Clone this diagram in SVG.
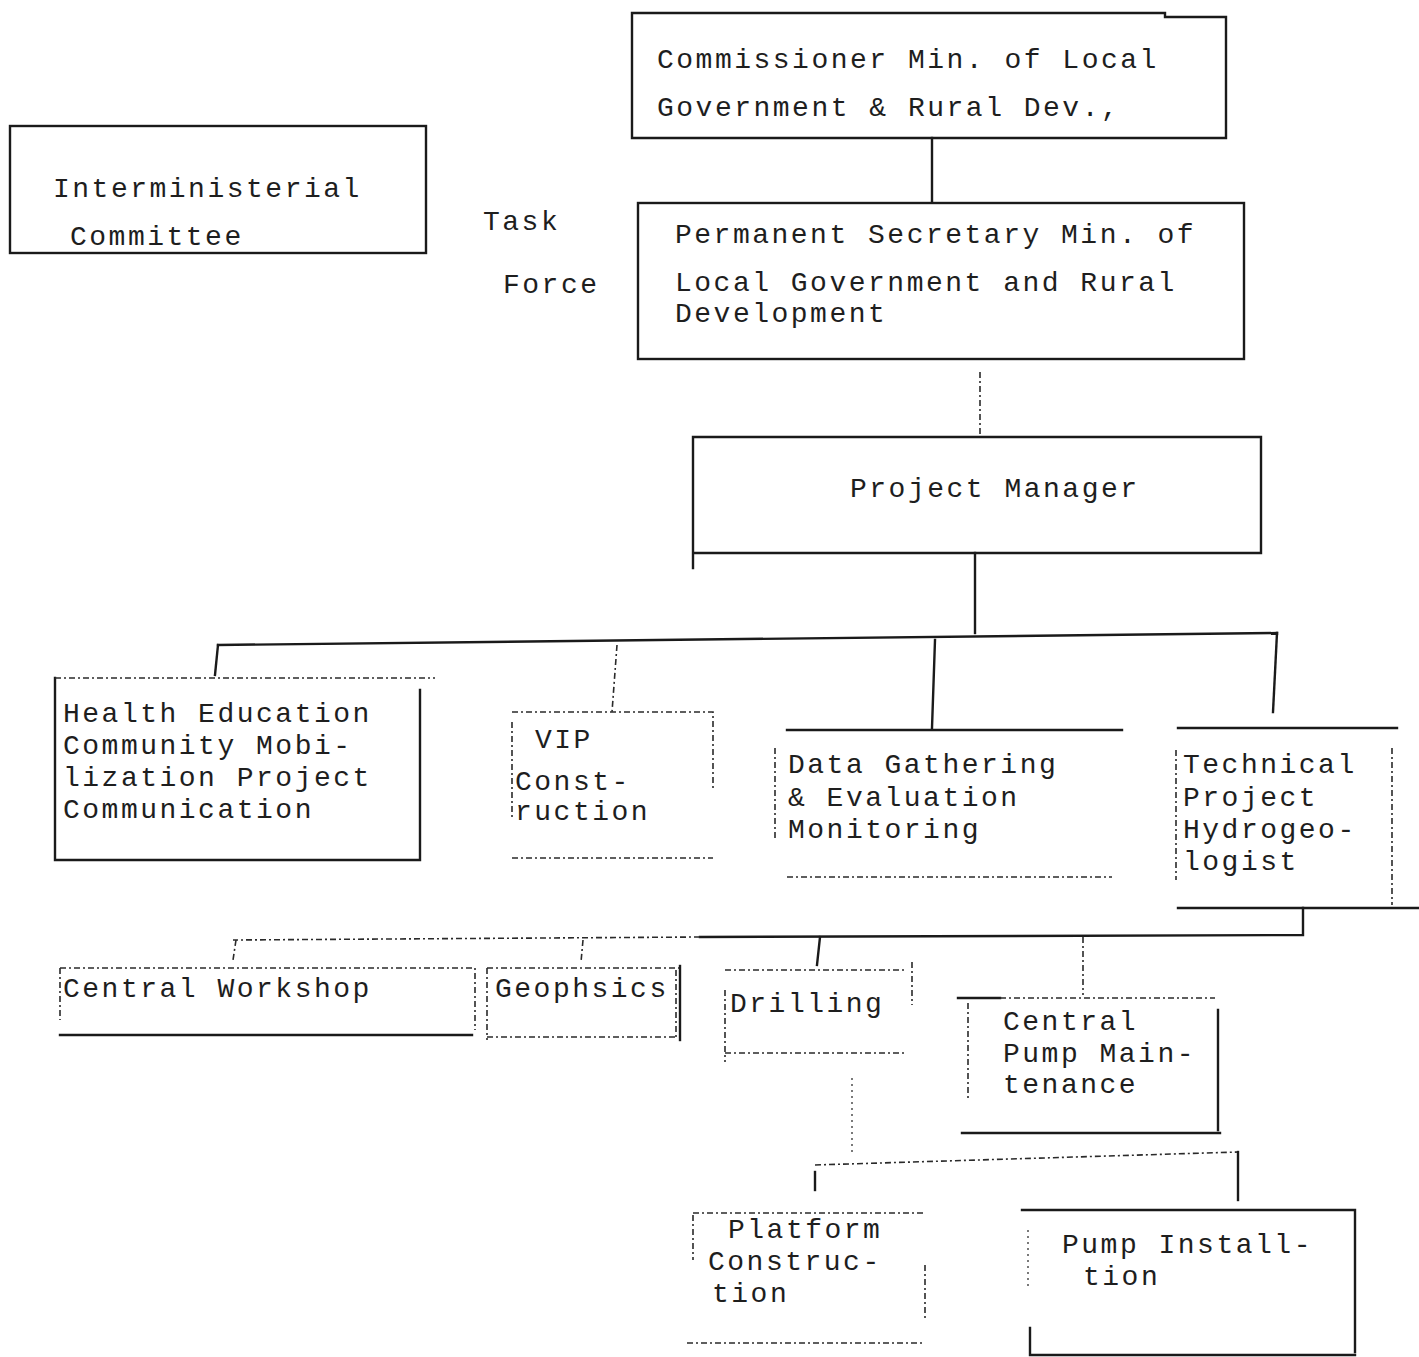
<svg xmlns="http://www.w3.org/2000/svg" width="1419" height="1357" viewBox="0 0 1419 1357">
<style>
.t{font-family:"Liberation Mono","DejaVu Sans Mono",monospace;font-size:28px;letter-spacing:2.5px;fill:#1e1e1e}
.s{fill:none;stroke:#1a1a1a;stroke-width:2.4;stroke-linecap:square}
.d{fill:none;stroke:#2a2a2a;stroke-width:1.6;stroke-dasharray:6 3 2 3}
.f{fill:none;stroke:#333;stroke-width:1.3;stroke-dasharray:2 4}
</style>
<rect width="1419" height="1357" fill="#fff"/>
<g id="connectors">
<path class="s" d="M932 138 V202"/>
<path class="d" d="M980 372 V437"/>
<path class="s" d="M975 553 V633"/>
<path class="s" d="M218 645 L1277 633"/>
<path class="s" d="M218 645 L215 675"/>
<path class="d" d="M617 645 L612 712"/>
<path class="s" d="M935 640 L932 728"/>
<path class="s" d="M1277 633 L1273 712"/>
<path class="s" d="M1303 908 V935 L700 937"/>
<path class="d" d="M700 937 L233 940"/>
<path class="d" d="M236 940 L233 960"/>
<path class="d" d="M583 940 L581 962"/>
<path class="s" d="M820 937 L817 965"/>
<path class="d" d="M1083 937 V995"/>
<path class="f" d="M852 1078 V1152"/>
<path class="d" d="M815 1165 L1238 1152"/>
<path class="s" d="M815 1172 V1190"/>
<path class="s" d="M1238 1152 V1200"/>
</g>
<g id="commissioner">
<path class="s" d="M632 138 V13 H1165 V17 H1226 V138 Z"/>
<text class="t" x="657" y="68">Commissioner Min. of Local</text>
<text class="t" x="657" y="116">Government &amp; Rural Dev.,</text>
</g>
<g id="interministerial">
<rect class="s" x="10" y="126" width="416" height="127"/>
<text class="t" x="53" y="197">Interministerial</text>
<text class="t" x="70" y="245">Committee</text>
</g>
<g id="taskforce">
<text class="t" x="483" y="230">Task</text>
<text class="t" x="503" y="293">Force</text>
</g>
<g id="permanent-secretary">
<rect class="s" x="638" y="203" width="606" height="156"/>
<text class="t" x="675" y="243">Permanent Secretary Min. of</text>
<text class="t" x="675" y="291">Local Government and Rural</text>
<text class="t" x="675" y="322">Development</text>
</g>
<g id="project-manager">
<path class="s" d="M693 568 V437 H1261 V553 H693"/>
<text class="t" x="850" y="497">Project Manager</text>
</g>
<g id="health-education">
<path class="s" d="M55 678 V860 H420 V690"/>
<path class="d" d="M55 678 H435"/>
<text class="t" x="63" y="722">Health Education</text>
<text class="t" x="63" y="754">Community Mobi-</text>
<text class="t" x="63" y="786">lization Project</text>
<text class="t" x="63" y="818">Communication</text>
</g>
<g id="vip">
<path class="d" d="M512 712 H713 V790 M512 722 V820 M512 858 H713"/>
<text class="t" x="535" y="748">VIP</text>
<text class="t" x="515" y="790">Const-</text>
<text class="t" x="515" y="820">ruction</text>
</g>
<g id="data-gathering">
<path class="s" d="M787 730 H1122"/>
<path class="d" d="M775 748 V840 M787 877 H1112"/>
<text class="t" x="788" y="773">Data Gathering</text>
<text class="t" x="788" y="806">&amp; Evaluation</text>
<text class="t" x="788" y="838">Monitoring</text>
</g>
<g id="technical">
<path class="s" d="M1178 728 H1397 M1178 908 H1419"/>
<path class="d" d="M1392 748 V905 M1176 750 V880"/>
<text class="t" x="1183" y="773">Technical</text>
<text class="t" x="1183" y="806">Project</text>
<text class="t" x="1183" y="838">Hydrogeo-</text>
<text class="t" x="1183" y="870">logist</text>
</g>
<g id="central-workshop">
<path class="d" d="M60 968 H475 V1030 M60 968 V1020"/>
<path class="s" d="M60 1035 H472"/>
<text class="t" x="63" y="997">Central Workshop</text>
</g>
<g id="geophsics">
<path class="d" d="M487 968 H680 M487 968 V1040 M487 1037 H676 M676 970 V1037"/>
<path class="s" d="M680 966 V1040"/>
<text class="t" x="495" y="997">Geophsics</text>
</g>
<g id="drilling">
<path class="d" d="M725 970 H905 M912 962 V1005 M725 990 V1062 M725 1053 H907"/>
<text class="t" x="730" y="1012">Drilling</text>
</g>
<g id="central-pump">
<path class="s" d="M958 998 H1000 M962 1133 H1220 M1218 1010 V1130"/>
<path class="d" d="M1000 998 H1215 M968 1003 V1100"/>
<text class="t" x="1003" y="1030">Central</text>
<text class="t" x="1003" y="1062">Pump Main-</text>
<text class="t" x="1003" y="1093">tenance</text>
</g>
<g id="platform">
<path class="d" d="M693 1213 H925 M693 1215 V1260 M925 1265 V1320 M687 1343 H925"/>
<text class="t" x="728" y="1238">Platform</text>
<text class="t" x="708" y="1270">Construc-</text>
<text class="t" x="712" y="1302">tion</text>
</g>
<g id="pump-installation">
<path class="s" d="M1022 1210 H1355 V1352 M1030 1328 V1355 H1355"/>
<path class="f" d="M1028 1230 V1290"/>
<text class="t" x="1062" y="1253">Pump Install-</text>
<text class="t" x="1083" y="1285">tion</text>
</g>
</svg>
